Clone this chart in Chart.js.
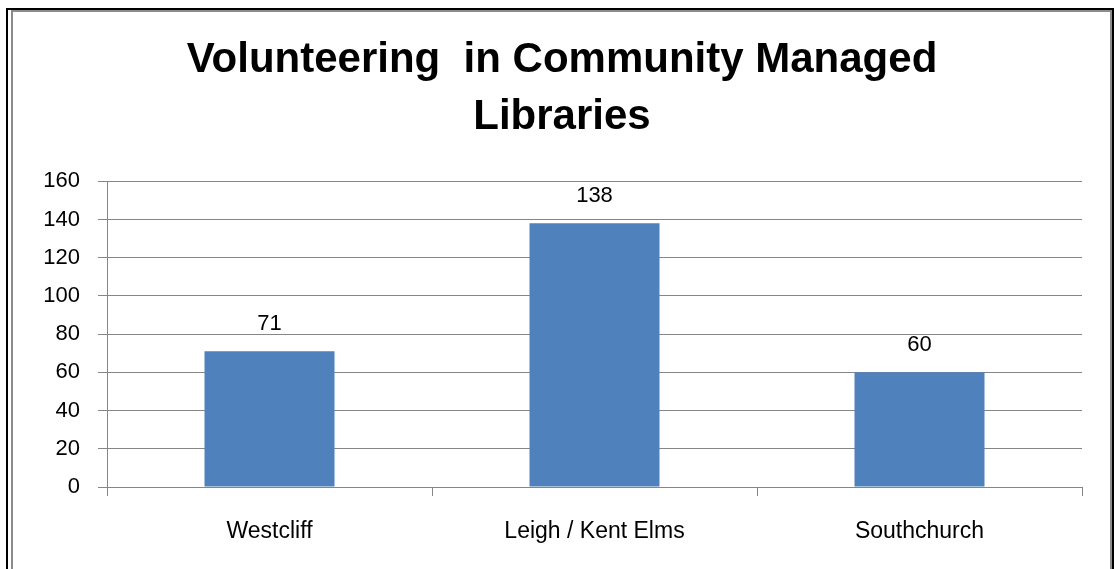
<!DOCTYPE html>
<html>
<head>
<meta charset="utf-8">
<script src="https://cdn.jsdelivr.net/npm/chart.js@4.4.1/dist/chart.umd.min.js"></script>
<style>
  html, body { margin: 0; padding: 0; background: #fff; }
  #wrap { position: relative; width: 1114px; height: 569px; overflow: hidden; }
  #outer { position: absolute; left: 6px; top: 8px; width: 1104px; height: 600px; border: 2px solid #000; }
  #inner { position: absolute; left: 11px; top: 10px; width: 1097px; height: 600px; border: 2px solid #8c8c8c; }
  canvas { position: absolute; left: 0; top: 0; }
</style>
</head>
<body>
<div id="wrap">
  <div id="outer"></div>
  <div id="inner"></div>
  <canvas id="chart" width="1114" height="569"></canvas>
</div>
<script>
// chart data
const categories = ['Westcliff', 'Leigh / Kent Elms', 'Southchurch'];
const volunteers = [71, 138, 60];
const titleLines = ['Volunteering  in Community Managed', 'Libraries'];

const barColor = '#4F81BD';
const gridColor = '#868686';
const fontFamily = '"Liberation Sans", Arial, sans-serif';

// draws the value above each bar
const valueLabels = {
  id: 'valueLabels',
  afterDatasetsDraw(chart) {
    const ctx = chart.ctx;
    const meta = chart.getDatasetMeta(0);
    ctx.save();
    ctx.font = '22px ' + fontFamily;
    ctx.fillStyle = '#000';
    ctx.textAlign = 'center';
    ctx.textBaseline = 'bottom';
    meta.data.forEach((bar, i) => {
      ctx.fillText(String(volunteers[i]), bar.x, bar.y - 16);
    });
    ctx.restore();
  }
};

const ctx = document.getElementById('chart').getContext('2d');
const chart = new Chart(ctx, {
  type: 'bar',
  data: {
    labels: categories,
    datasets: [{
      label: 'Volunteers',
      data: volunteers,
      backgroundColor: barColor,
      borderWidth: 0,
      barPercentage: 0.4,
      categoryPercentage: 1.0
    }]
  },
  options: {
    responsive: false,
    animation: false,
    // left padding keeps the title centred like the original
    layout: { padding: { left: 42, right: 32, top: 0, bottom: 0 } },
    plugins: {
      legend: { display: false },
      tooltip: { enabled: false },
      title: {
        display: true,
        text: titleLines,
        color: '#000',
        font: { family: fontFamily, size: 42, weight: 'bold', lineHeight: 1.36 },
        padding: { top: 32, bottom: 35 }
      }
    },
    scales: {
      x: {
        offset: true,
        grid: { offset: true, drawOnChartArea: false, drawTicks: true, tickLength: 9, color: gridColor, lineWidth: 1 },
        border: { color: gridColor, width: 1 },
        ticks: { color: '#000', padding: 22, font: { family: fontFamily, size: 23 } },
        afterFit(scale) { scale.height = 82; }
      },
      y: {
        min: 0,
        max: 160,
        ticks: { stepSize: 20, color: '#000', padding: 18, font: { family: fontFamily, size: 22 } },
        grid: { color: gridColor, lineWidth: 1, tickLength: 9 },
        border: { color: gridColor, width: 1 },
        afterFit(scale) { scale.width = 65; }
      }
    }
  },
  plugins: [valueLabels]
});
</script>
</body>
</html>
